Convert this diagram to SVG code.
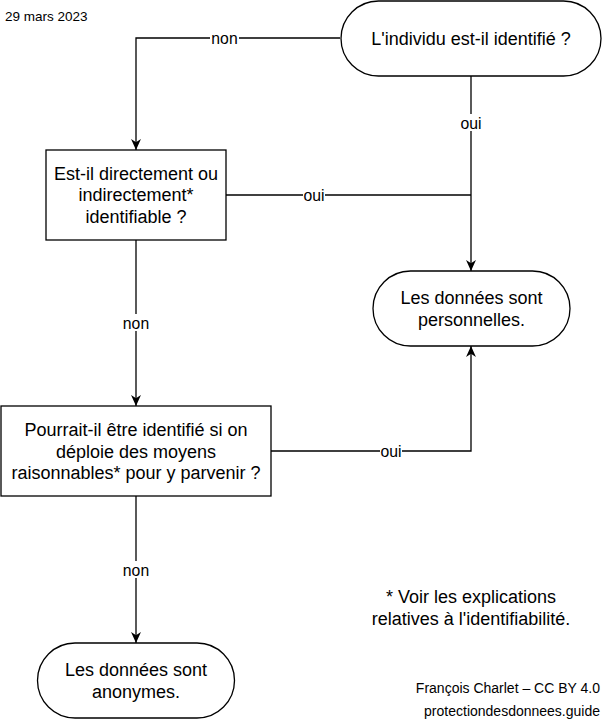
<svg xmlns="http://www.w3.org/2000/svg" width="605" height="723" viewBox="0 0 605 723">
<defs>
<style>
text{font-family:"Liberation Sans",Arial,Helvetica,sans-serif;fill:#000}
.n{font-size:18px;text-anchor:middle}
.l{font-size:15.75px;text-anchor:middle}
.s{font-size:13.5px}
.c{font-size:14px;text-anchor:end}
.shape{fill:#fff;stroke:#000;stroke-width:1.3}
.edge{fill:none;stroke:#000;stroke-width:1.3}
.lb{fill:#fff}
</style>
<marker id="arr" viewBox="0 0 10 10" refX="10" refY="5" markerWidth="11" markerHeight="11" markerUnits="userSpaceOnUse" orient="auto">
<path d="M0,0.5 L10,5 L0,9.5 L3,5 Z" fill="#000"/>
</marker>
</defs>
<rect width="605" height="723" fill="#fff"/>
<text class="s" x="5" y="21">29 mars 2023</text>

<g id="connectors">
<path class="edge" d="M340,38 H136 V150" marker-end="url(#arr)"/>
<path class="edge" d="M471,76 V271" marker-end="url(#arr)"/>
<path class="edge" d="M226,195 H471"/>
<path class="edge" d="M136,240 V406" marker-end="url(#arr)"/>
<path class="edge" d="M271,451 H471 V346" marker-end="url(#arr)"/>
<path class="edge" d="M136,496 V643" marker-end="url(#arr)"/>
<rect class="lb" x="210" y="30" width="29" height="17"/>
<text class="l" x="224.5" y="43.5">non</text>
<rect class="lb" x="460" y="114" width="22" height="17"/>
<text class="l" x="471" y="128.5">oui</text>
<rect class="lb" x="303" y="187" width="22" height="17"/>
<text class="l" x="314" y="200.5">oui</text>
<rect class="lb" x="121" y="314" width="30" height="17"/>
<text class="l" x="136" y="328.5">non</text>
<rect class="lb" x="380" y="443" width="22" height="17"/>
<text class="l" x="391" y="456.5">oui</text>
<rect class="lb" x="121" y="561" width="30" height="17"/>
<text class="l" x="136" y="575.5">non</text>
</g>

<g id="q1">
<rect class="shape" x="341" y="1" width="260" height="75" rx="37.5" ry="37.5"/>
<text class="n" x="471" y="45">L'individu est-il identifié ?</text>
</g>

<g id="q2">
<rect class="shape" x="46" y="150" width="180" height="90"/>
<text class="n" x="136" y="179.5">Est-il directement ou</text>
<text class="n" x="136" y="201">indirectement*</text>
<text class="n" x="136" y="222.6">identifiable ?</text>
</g>

<g id="perso">
<rect class="shape" x="373" y="271" width="197" height="75" rx="37.5" ry="37.5"/>
<text class="n" x="471.5" y="304">Les données sont</text>
<text class="n" x="471.5" y="325.6">personnelles.</text>
</g>

<g id="q3">
<rect class="shape" x="1" y="406" width="270" height="90"/>
<text class="n" x="136" y="436">Pourrait-il être identifié si on</text>
<text class="n" x="136" y="457.6">déploie des moyens</text>
<text class="n" x="136" y="479.2">raisonnables* pour y parvenir ?</text>
</g>

<g id="anon">
<rect class="shape" x="37.5" y="643" width="197" height="75" rx="37.5" ry="37.5"/>
<text class="n" x="136" y="676">Les données sont</text>
<text class="n" x="136" y="697.6">anonymes.</text>
</g>

<g id="note">
<text class="n" x="471" y="603">* Voir les explications</text>
<text class="n" x="471" y="624.6">relatives à l'identifiabilité.</text>
</g>

<g id="credits">
<text class="c" x="600" y="693">François Charlet – CC BY 4.0</text>
<text class="c" x="600" y="716">protectiondesdonnees.guide</text>
</g>
</svg>
